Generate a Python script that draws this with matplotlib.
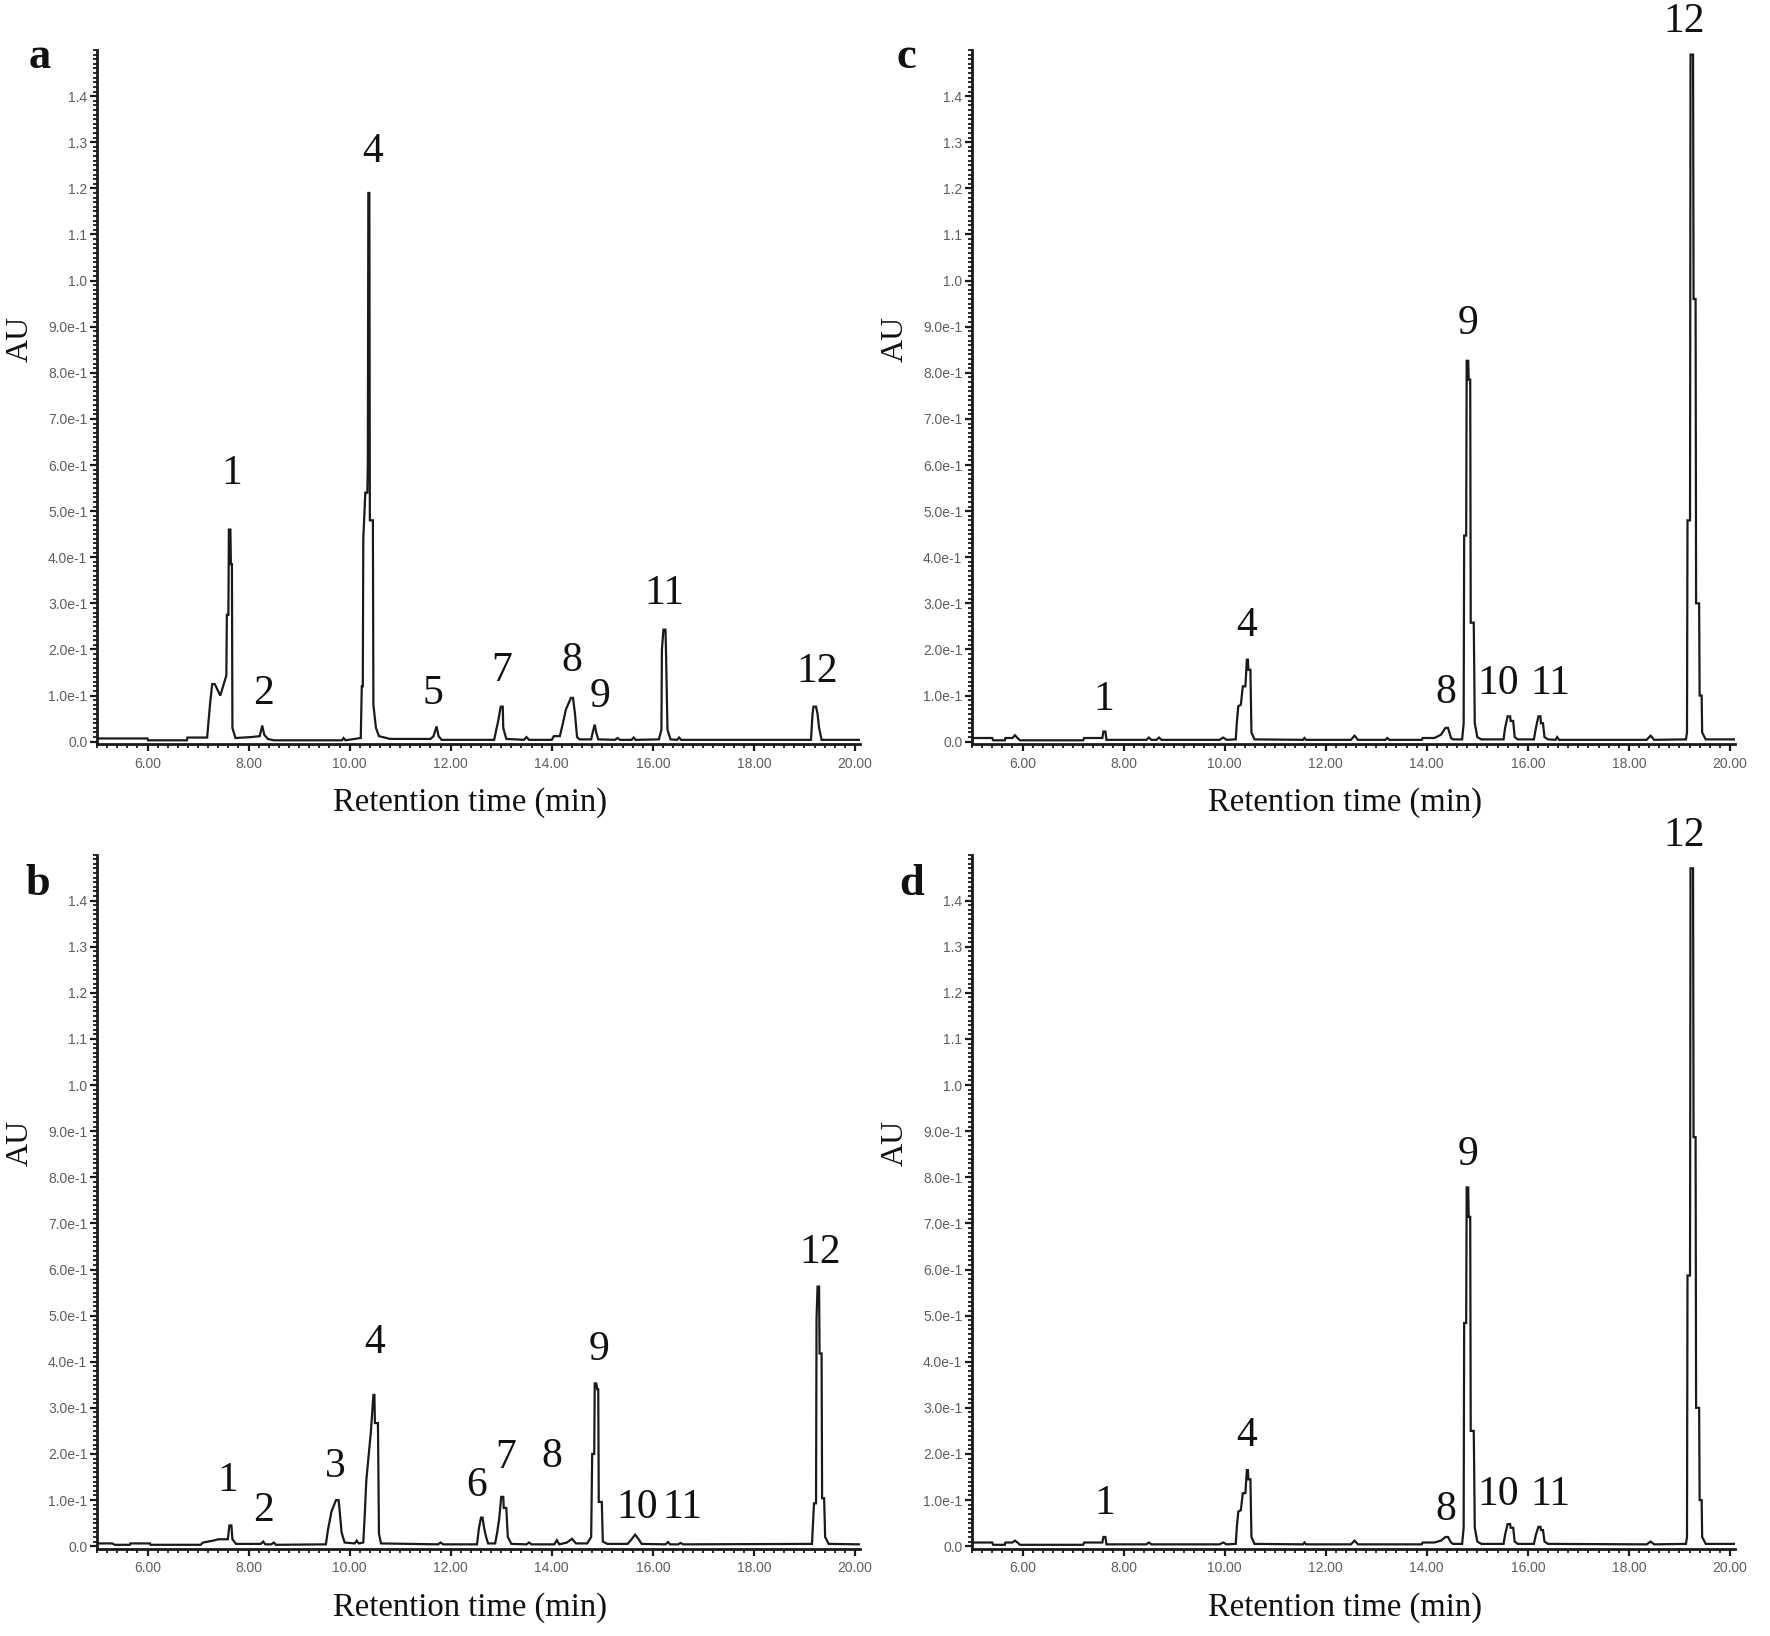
import matplotlib
matplotlib.use("Agg")
import matplotlib.pyplot as plt
from matplotlib.ticker import MultipleLocator, FixedLocator

# ---- chromatogram traces (retention time in min, absorbance in AU) ----
a_time = [5.00, 6.00, 6.01, 6.78, 6.79, 7.18, 7.20, 7.24, 7.28, 7.33, 7.44, 7.55, 7.56, 7.57, 7.60,
          7.61, 7.64, 7.65, 7.67, 7.68, 7.74, 8.05, 8.22, 8.27, 8.31, 8.38, 8.50, 9.85, 9.88, 9.92,
          10.22, 10.24, 10.26, 10.27, 10.31, 10.35, 10.36, 10.37, 10.39, 10.40, 10.46, 10.47, 10.52,
          10.58, 10.80, 11.60, 11.66, 11.72, 11.76, 11.82, 12.86, 12.90, 12.94, 12.99, 13.03, 13.04,
          13.10, 13.45, 13.50, 13.55, 14.00, 14.04, 14.16, 14.22, 14.28, 14.38, 14.42, 14.46, 14.50,
          14.55, 14.78, 14.81, 14.85, 14.88, 14.92, 15.25, 15.30, 15.35, 15.58, 15.62, 15.66, 16.12,
          16.17, 16.18, 16.21, 16.25, 16.26, 16.29, 16.35, 16.48, 16.52, 16.56, 19.13, 19.16, 19.18,
          19.23, 19.26, 19.29, 19.34, 20.10]
a_au = [0.007, 0.007, 0.003, 0.003, 0.009, 0.009, 0.035, 0.085, 0.125, 0.125, 0.100, 0.140, 0.145, 0.275, 0.275,
        0.460, 0.460, 0.385, 0.385, 0.030, 0.008, 0.010, 0.012, 0.035, 0.015, 0.006, 0.003, 0.003, 0.008, 0.003,
        0.008, 0.120, 0.120, 0.440, 0.540, 0.540, 0.605, 1.190, 1.190, 0.480, 0.480, 0.080, 0.030,
        0.012, 0.006, 0.006, 0.012, 0.033, 0.012, 0.004, 0.004, 0.025, 0.045, 0.076, 0.076, 0.030,
        0.006, 0.004, 0.010, 0.004, 0.004, 0.012, 0.012, 0.040, 0.070, 0.095, 0.095, 0.060, 0.010,
        0.005, 0.005, 0.020, 0.037, 0.020, 0.005, 0.004, 0.008, 0.004, 0.004, 0.009, 0.004, 0.005,
        0.026, 0.200, 0.243, 0.243, 0.200, 0.026, 0.005, 0.004, 0.009, 0.004, 0.004, 0.060, 0.076,
        0.076, 0.060, 0.030, 0.004, 0.004]

b_time = [5.00, 5.30, 5.35, 5.65, 5.66, 6.05, 6.06, 7.05, 7.10, 7.30, 7.40, 7.59, 7.62, 7.66, 7.68,
          7.75, 8.24, 8.29, 8.33, 8.45, 8.50, 8.54, 9.53, 9.57, 9.64, 9.73, 9.78, 9.80, 9.84, 9.90,
          10.10, 10.14, 10.18, 10.27, 10.30, 10.33, 10.42, 10.47, 10.49, 10.50, 10.56, 10.58, 10.62,
          11.75, 11.80, 11.85, 12.52, 12.56, 12.60, 12.63, 12.66, 12.70, 12.74, 12.88, 12.92, 12.96,
          13.00, 13.04, 13.05, 13.10, 13.13, 13.20, 13.50, 13.55, 13.60, 14.05, 14.10, 14.15, 14.30,
          14.40, 14.48, 14.70, 14.78, 14.80, 14.84, 14.85, 14.88, 14.90, 14.92, 14.93, 14.99, 15.01,
          15.10, 15.50, 15.58, 15.65, 15.72, 15.78, 16.25, 16.30, 16.34, 16.50, 16.55, 16.60, 19.15,
          19.19, 19.23, 19.24, 19.26, 19.29, 19.30, 19.34, 19.35, 19.39, 19.41, 19.48, 20.10]
b_au = [0.006, 0.006, 0.003, 0.003, 0.006, 0.006, 0.003, 0.003, 0.008, 0.012, 0.015, 0.015, 0.045, 0.045, 0.015,
        0.005, 0.005, 0.010, 0.004, 0.004, 0.008, 0.003, 0.004, 0.035, 0.075, 0.100, 0.100, 0.080, 0.030, 0.008,
        0.006, 0.012, 0.006, 0.008, 0.070, 0.143, 0.248, 0.328, 0.328, 0.267, 0.267, 0.027, 0.006,
        0.004, 0.008, 0.004, 0.004, 0.040, 0.062, 0.062, 0.040, 0.020, 0.006, 0.006, 0.030, 0.060,
        0.107, 0.107, 0.083, 0.083, 0.020, 0.005, 0.004, 0.008, 0.004, 0.004, 0.013, 0.004, 0.008,
        0.016, 0.006, 0.006, 0.020, 0.200, 0.200, 0.353, 0.353, 0.340, 0.340, 0.096, 0.096, 0.010,
        0.005, 0.005, 0.015, 0.025, 0.015, 0.005, 0.004, 0.009, 0.004, 0.004, 0.007, 0.004, 0.005,
        0.093, 0.093, 0.495, 0.563, 0.563, 0.418, 0.418, 0.104, 0.104, 0.020, 0.005, 0.004]

c_time = [5.00, 5.40, 5.42, 5.65, 5.66, 5.80, 5.85, 5.90, 5.95, 7.20, 7.22, 7.58, 7.60, 7.64, 7.66,
          8.45, 8.50, 8.55, 8.65, 8.70, 8.75, 9.90, 9.97, 10.04, 10.22, 10.24, 10.27, 10.32, 10.36,
          10.41, 10.44, 10.46, 10.47, 10.51, 10.53, 10.59, 11.55, 11.58, 11.61, 12.50, 12.57, 12.64,
          13.18, 13.22, 13.26, 13.90, 13.92, 14.15, 14.28, 14.37, 14.42, 14.48, 14.52, 14.70, 14.73,
          14.74, 14.78, 14.79, 14.82, 14.83, 14.86, 14.87, 14.93, 14.95, 15.00, 15.08, 15.52, 15.55,
          15.60, 15.65, 15.66, 15.71, 15.74, 15.80, 16.12, 16.16, 16.21, 16.25, 16.26, 16.30, 16.33,
          16.40, 16.55, 16.58, 16.62, 18.35, 18.43, 18.50, 19.13, 19.15, 19.16, 19.21, 19.22, 19.27,
          19.28, 19.32, 19.33, 19.39, 19.40, 19.44, 19.45, 19.52, 20.10]
c_au = [0.008, 0.008, 0.003, 0.003, 0.008, 0.008, 0.014, 0.008, 0.003, 0.003, 0.008, 0.008, 0.022, 0.022, 0.004,
        0.004, 0.009, 0.004, 0.004, 0.009, 0.004, 0.004, 0.009, 0.004, 0.005, 0.040, 0.077, 0.080, 0.120,
        0.120, 0.178, 0.178, 0.156, 0.156, 0.020, 0.005, 0.004, 0.008, 0.004, 0.004, 0.013, 0.004,
        0.004, 0.008, 0.004, 0.004, 0.008, 0.008, 0.015, 0.030, 0.030, 0.008, 0.005, 0.005, 0.040,
        0.447, 0.447, 0.826, 0.826, 0.785, 0.785, 0.258, 0.258, 0.040, 0.010, 0.005, 0.005, 0.030,
        0.055, 0.055, 0.045, 0.045, 0.010, 0.005, 0.005, 0.030, 0.055, 0.055, 0.040, 0.040, 0.010,
        0.005, 0.004, 0.010, 0.004, 0.004, 0.013, 0.004, 0.005, 0.020, 0.480, 0.480, 1.490, 1.490,
        0.960, 0.960, 0.300, 0.300, 0.100, 0.100, 0.020, 0.005, 0.005]

d_time = [5.00, 5.40, 5.42, 5.65, 5.66, 5.80, 5.85, 5.90, 5.95, 7.20, 7.22, 7.58, 7.60, 7.64, 7.66,
          8.45, 8.50, 8.55, 9.90, 9.97, 10.04, 10.22, 10.24, 10.27, 10.32, 10.36, 10.41, 10.44, 10.46,
          10.47, 10.51, 10.53, 10.59, 11.55, 11.58, 11.61, 12.50, 12.57, 12.64, 13.90, 13.92, 14.15,
          14.28, 14.37, 14.42, 14.48, 14.52, 14.70, 14.73, 14.74, 14.78, 14.79, 14.82, 14.83, 14.86,
          14.87, 14.93, 14.95, 15.00, 15.08, 15.52, 15.55, 15.60, 15.65, 15.66, 15.71, 15.74, 15.80,
          16.12, 16.16, 16.21, 16.25, 16.26, 16.30, 16.33, 16.40, 18.35, 18.43, 18.50, 19.13, 19.15,
          19.16, 19.21, 19.22, 19.27, 19.28, 19.32, 19.33, 19.39, 19.40, 19.44, 19.45, 19.52, 20.10]
d_au = [0.008, 0.008, 0.003, 0.003, 0.008, 0.008, 0.012, 0.008, 0.003, 0.003, 0.008, 0.008, 0.020, 0.020, 0.004,
        0.004, 0.008, 0.004, 0.004, 0.008, 0.004, 0.005, 0.040, 0.075, 0.078, 0.115, 0.115, 0.165, 0.165,
        0.145, 0.145, 0.020, 0.005, 0.004, 0.008, 0.004, 0.004, 0.012, 0.004, 0.004, 0.008, 0.008,
        0.012, 0.020, 0.020, 0.008, 0.005, 0.005, 0.040, 0.484, 0.484, 0.778, 0.778, 0.714, 0.714,
        0.250, 0.250, 0.040, 0.010, 0.005, 0.005, 0.025, 0.048, 0.048, 0.040, 0.040, 0.010, 0.005,
        0.005, 0.025, 0.042, 0.042, 0.035, 0.035, 0.010, 0.005, 0.004, 0.010, 0.004, 0.005, 0.020,
        0.587, 0.587, 1.470, 1.470, 0.887, 0.887, 0.300, 0.300, 0.100, 0.100, 0.020, 0.005, 0.005]

# ---- peak numbers written above the trace ----
a_labels = ["1", "2", "4", "5", "7", "8", "9", "11", "12"]
a_label_t = [7.67, 8.29, 10.45, 11.65, 13.01, 14.40, 14.96, 16.22, 19.25]
a_label_au = [0.581, 0.103, 1.280, 0.103, 0.154, 0.175, 0.097, 0.320, 0.151]

b_labels = ["1", "2", "3", "4", "6", "7", "8", "9", "10", "11", "12"]
b_label_t = [7.58, 8.29, 9.71, 10.49, 12.52, 13.08, 14.00, 14.93, 15.69, 16.58, 19.32]
b_label_au = [0.141, 0.076, 0.173, 0.441, 0.130, 0.191, 0.195, 0.427, 0.083, 0.083, 0.636]

c_labels = ["1", "4", "8", "9", "10", "11", "12"]
c_label_t = [7.60, 10.44, 14.37, 14.81, 15.42, 16.45, 19.10]
c_label_au = [0.092, 0.251, 0.107, 0.906, 0.125, 0.125, 1.562]

d_labels = ["1", "4", "8", "9", "10", "11", "12"]
d_label_t = [7.62, 10.44, 14.37, 14.81, 15.42, 16.45, 19.10]
d_label_au = [0.092, 0.240, 0.080, 0.848, 0.112, 0.112, 1.540]

y_ticks = [0.0, 0.1, 0.2, 0.3, 0.4, 0.5, 0.6, 0.7, 0.8, 0.9, 1.0, 1.1, 1.2, 1.3, 1.4]
y_ticklabels = ["0.0", "1.0e-1", "2.0e-1", "3.0e-1", "4.0e-1", "5.0e-1", "6.0e-1", "7.0e-1",
                "8.0e-1", "9.0e-1", "1.0", "1.1", "1.2", "1.3", "1.4"]
x_ticks = [6, 8, 10, 12, 14, 16, 18, 20]
x_ticklabels = ["6.00", "8.00", "10.00", "12.00", "14.00", "16.00", "18.00", "20.00"]

W, H = 1770, 1636
fig = plt.figure(figsize=(W / 100, H / 100), dpi=100)
fig.patch.set_facecolor("white")

SERIF = "Liberation Serif"
SANS = "Liberation Sans"
INK = "#1a1a1a"


def panel(rect, t, au, labels, lt, lau, letter, letter_xy):
    ax = fig.add_axes(rect)
    ax.plot(t, au, color=INK, lw=1.6, solid_joinstyle="miter")
    ax.set_xlim(5, 20.1)
    ax.set_ylim(-0.005, 1.5)
    for s in ("top", "right"):
        ax.spines[s].set_visible(False)
    for s in ("left", "bottom"):
        ax.spines[s].set_linewidth(2.0)
        ax.spines[s].set_color(INK)

    ax.xaxis.set_major_locator(FixedLocator(x_ticks))
    ax.set_xticklabels(x_ticklabels)
    ax.xaxis.set_minor_locator(MultipleLocator(0.2))
    ax.yaxis.set_major_locator(FixedLocator(y_ticks))
    ax.set_yticklabels(y_ticklabels)
    ax.yaxis.set_minor_locator(MultipleLocator(0.01))
    ax.tick_params(which="major", direction="out", length=5, width=1.6, color=INK,
                   labelsize=10, labelcolor="#5e5e5e", pad=4)
    ax.tick_params(which="minor", direction="out", length=3, width=1.3, color=INK)
    ax.tick_params(axis="y", which="major", pad=2)
    for lab in ax.get_xticklabels() + ax.get_yticklabels():
        lab.set_fontfamily(SANS)

    for s, x, y in zip(labels, lt, lau):
        ax.text(x, y, s, ha="center", va="center", fontsize=30, family=SERIF,
                color="#111111", clip_on=False)

    ax.text(0.489, -0.085, "Retention time (min)", transform=ax.transAxes,
            ha="center", va="center", fontsize=23.5, family=SERIF, color="#111111")
    ax.text(-0.101, 0.584, "AU", transform=ax.transAxes, rotation=90,
            ha="center", va="center", fontsize=23, family=SERIF, color="#111111")
    fig.text(letter_xy[0], letter_xy[1], letter, ha="center", va="center",
             fontsize=32, fontweight="bold", family=SERIF, color="#111111")
    return ax


left_a, left_c = 97 / W, 972 / W
width = 763 / W
height = 694 / H
bottom_top, bottom_low = 1 - 744 / H, 1 - 1548.5 / H

panel([left_a, bottom_top, width, height], a_time, a_au, a_labels, a_label_t, a_label_au,
      "a", (40 / W, 1 - 57 / H))
panel([left_a, bottom_low, width, height], b_time, b_au, b_labels, b_label_t, b_label_au,
      "b", (38 / W, 1 - 884 / H))
panel([left_c, bottom_top, width, height], c_time, c_au, c_labels, c_label_t, c_label_au,
      "c", (906 / W, 1 - 57 / H))
panel([left_c, bottom_low, width, height], d_time, d_au, d_labels, d_label_t, d_label_au,
      "d", (912 / W, 1 - 884 / H))

fig.savefig("out.png", dpi=100, facecolor="white")
